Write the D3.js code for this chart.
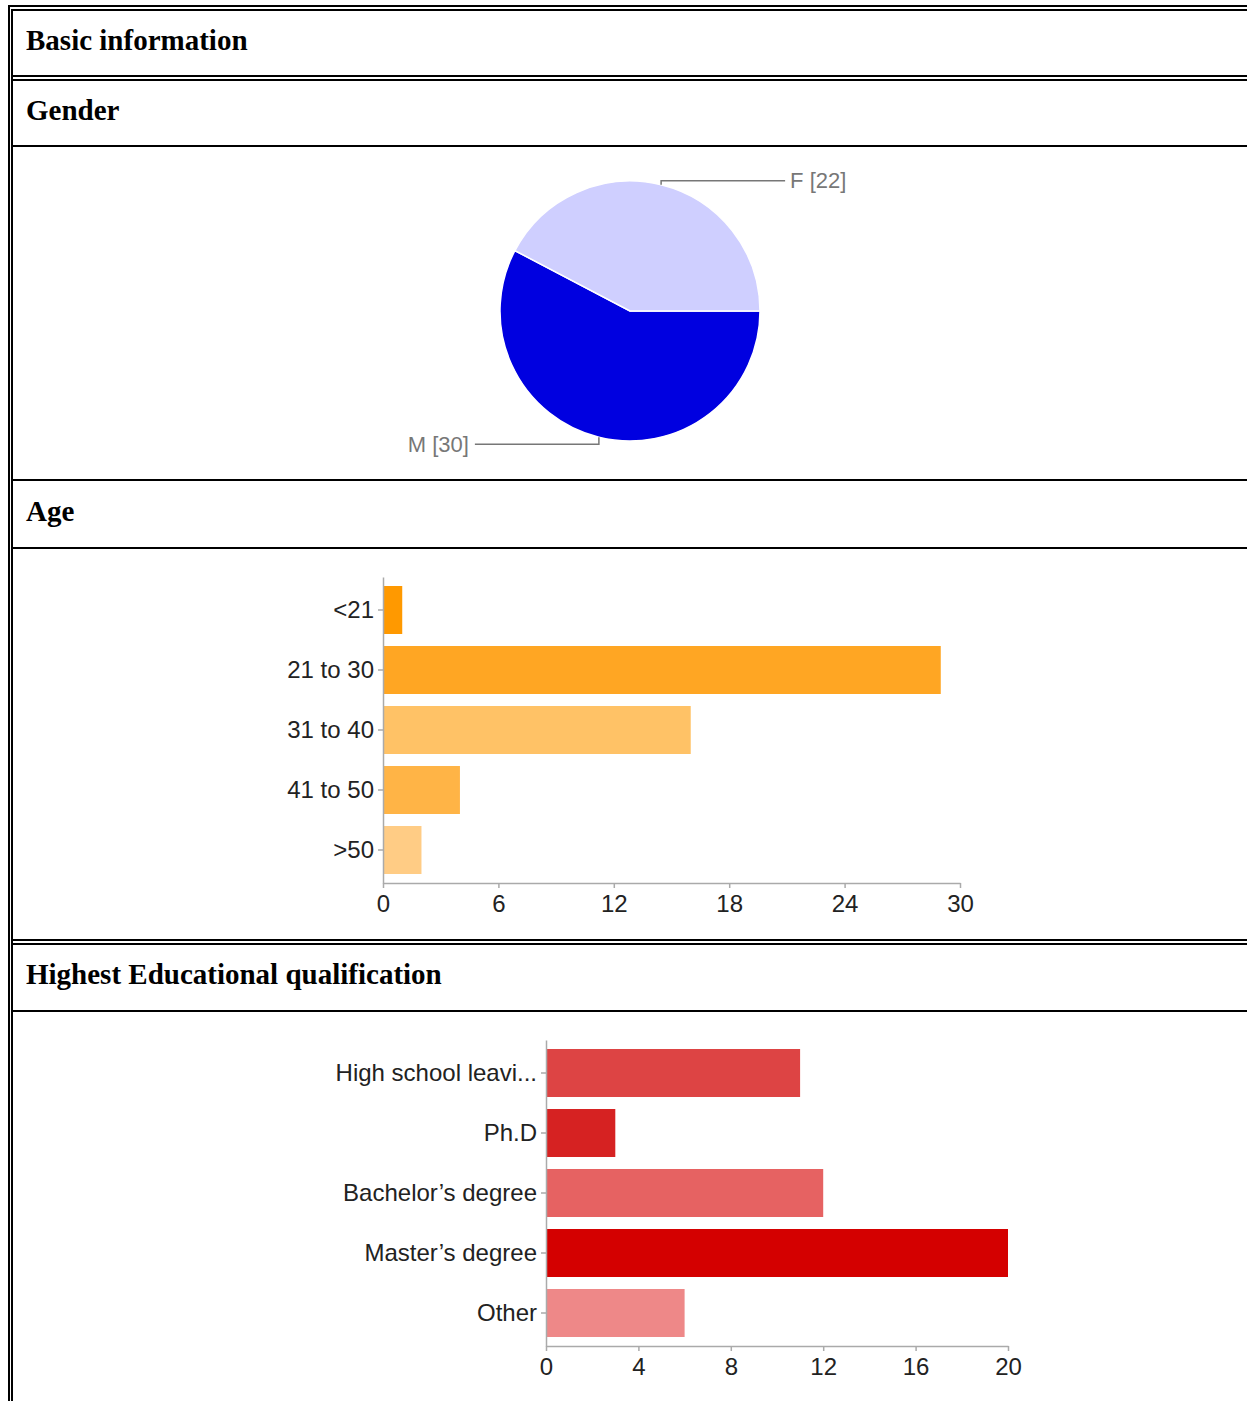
<!DOCTYPE html>
<html>
<head>
<meta charset="utf-8">
<script src="https://cdn.jsdelivr.net/npm/d3@7"></script>
<style>
  html, body { margin: 0; padding: 0; background: #fff; overflow: hidden; }
  svg { display: block; }
</style>
</head>
<body>
<svg id="chart" width="1247" height="1401"></svg>
<script>
// ---- data ----
const sectionTitles = ["Basic information", "Gender", "Age", "Highest Educational qualification"];

const genderLabels = ["M", "F"];
const genderValues = [30, 22];
const genderColors = ["#0000e0", "#cfcfff"];

const ageCategories = ["<21", "21 to 30", "31 to 40", "41 to 50", ">50"];
const ageValues = [1, 29, 16, 4, 2];
const ageColors = ["#ff9900", "#ffa623", "#ffc266", "#ffb446", "#ffcc85"];
const ageTicks = [0, 6, 12, 18, 24, 30];

const eduCategories = ["High school leavi...", "Ph.D", "Bachelor’s degree", "Master’s degree", "Other"];
const eduValues = [11, 3, 12, 20, 6];
const eduColors = ["#dd4444", "#d62222", "#e66262", "#d40000", "#ee8888"];
const eduTicks = [0, 4, 8, 12, 16, 20];

const svg = d3.select("#chart");
const W = 1247, H = 1401;
const sans = "'Liberation Sans', Arial, sans-serif";
const serif = "'Liberation Serif', 'Times New Roman', serif";

// ---- table borders ----
const borders = svg.append("g").attr("fill", "#000");
// vertical
borders.append("rect").attr("x", 8).attr("y", 5).attr("width", 2).attr("height", H);
borders.append("rect").attr("x", 11).attr("y", 9).attr("width", 2).attr("height", H);
// horizontal
borders.append("rect").attr("x", 8).attr("y", 5).attr("width", W).attr("height", 2);
[9, 75, 79, 145, 479, 547, 939, 943, 1010].forEach(y => {
  borders.append("rect").attr("x", 11).attr("y", y).attr("width", W).attr("height", 2);
});

// ---- section headings ----
const headY = [50, 120, 521, 984];
svg.append("g").selectAll("text")
  .data(sectionTitles)
  .enter()
  .append("text")
  .attr("x", 26)
  .attr("y", (d, i) => headY[i])
  .attr("font-family", serif)
  .attr("font-weight", "bold")
  .attr("font-size", 29)
  .attr("fill", "#000")
  .text(d => d);

// ---- pie ----
const cx = 630, cy = 311, r = 130;
const pieG = svg.append("g").attr("transform", `translate(${cx},${cy})`);
const pie = d3.pie().sort(null).startAngle(Math.PI / 2).endAngle(Math.PI / 2 + 2 * Math.PI);
const arcs = pie(genderValues);
const arc = d3.arc().innerRadius(0).outerRadius(r);

pieG.selectAll("path")
  .data(arcs)
  .enter()
  .append("path")
  .attr("d", arc)
  .attr("fill", (d, i) => genderColors[i])
  .attr("stroke", "#fff")
  .attr("stroke-width", 1.5);

// leader lines + labels
arcs.forEach((d, i) => {
  const mid = (d.startAngle + d.endAngle) / 2;
  const px = Math.sin(mid) * r, py = -Math.cos(mid) * r;
  const up = py < 0;
  const ky = up ? py - 4 : py + 7;
  const kx = up ? px + 124 : px - 124;
  pieG.append("path")
    .attr("d", `M${px},${py}V${ky}H${kx}`)
    .attr("fill", "none")
    .attr("stroke", "#777")
    .attr("stroke-width", 1.5);
  pieG.append("text")
    .attr("x", up ? kx + 5 : kx - 6)
    .attr("y", ky)
    .attr("dy", "0.35em")
    .attr("text-anchor", up ? "start" : "end")
    .attr("font-family", sans)
    .attr("font-size", 22)
    .attr("fill", "#777")
    .text(`${genderLabels[i]} [${genderValues[i]}]`);
});

// ---- horizontal bar charts ----
function drawBars(cats, vals, colors, ticks, x0, x1, y0, y1) {
  const g = svg.append("g");
  const x = d3.scaleLinear().domain([0, d3.max(ticks)]).range([x0, x1]);
  const y = d3.scaleBand().domain(cats).range([y0, y1]).paddingInner(0.2).paddingOuter(0.15);

  g.selectAll("rect")
    .data(vals)
    .enter()
    .append("rect")
    .attr("x", x(0) + 1)
    .attr("y", (d, i) => y(cats[i]))
    .attr("width", d => x(d) - x(0) - 1)
    .attr("height", y.bandwidth())
    .attr("fill", (d, i) => colors[i]);

  const xa = g.append("g")
    .attr("transform", `translate(0,${y1})`)
    .call(d3.axisBottom(x).tickValues(ticks).tickSize(5).tickSizeOuter(0).tickPadding(7));
  const ya = g.append("g")
    .attr("transform", `translate(${x0},0)`)
    .call(d3.axisLeft(y).tickSize(5).tickSizeOuter(0).tickPadding(4));

  [xa, ya].forEach(a => {
    a.selectAll("path, line").attr("stroke", "#aaa").attr("stroke-width", 1.5);
    a.selectAll("text")
      .attr("font-family", sans)
      .attr("font-size", 24)
      .attr("fill", "#222");
  });
}

drawBars(ageCategories, ageValues, ageColors, ageTicks, 383, 960, 577, 883);
drawBars(eduCategories, eduValues, eduColors, eduTicks, 546, 1008, 1040, 1346);
</script>
</body>
</html>
